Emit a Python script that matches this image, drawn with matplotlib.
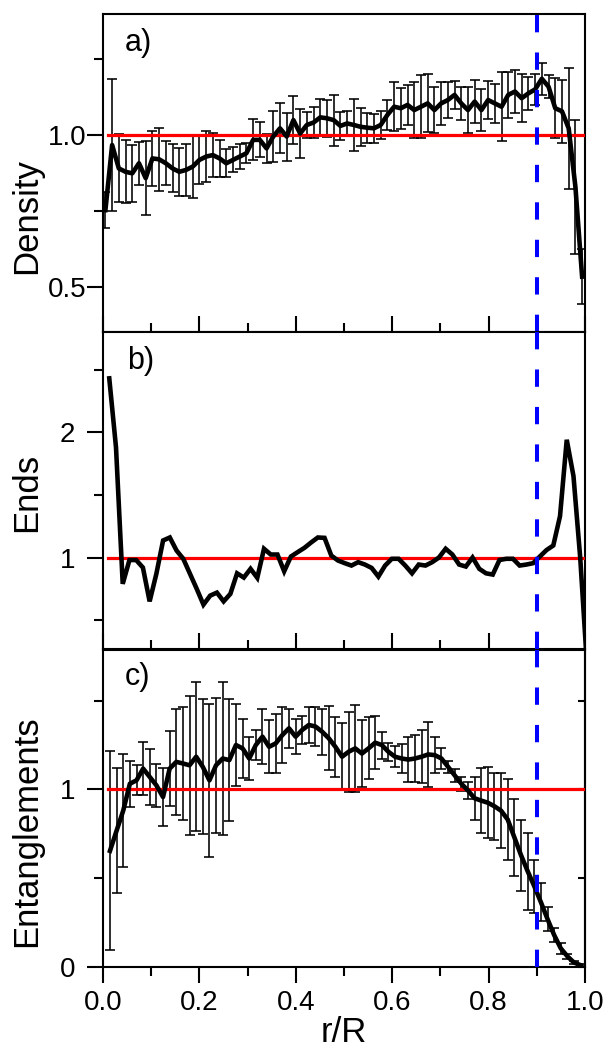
import numpy as np
import matplotlib
matplotlib.use('Agg')
import matplotlib.pyplot as plt
from matplotlib.ticker import MultipleLocator

plt.rcParams['font.family'] = ['Liberation Sans', 'DejaVu Sans']

# ---------------- data ----------------
r_density = np.linspace(0.005, 0.994, 72)
density = [0.753, 0.967, 0.890, 0.879, 0.874, 0.907, 0.858, 0.923, 0.920, 0.907,
           0.890, 0.879, 0.885, 0.896, 0.918, 0.929, 0.934, 0.923, 0.907, 0.918,
           0.929, 0.940, 0.984, 0.984, 0.956, 0.995, 1.022, 0.995, 1.049, 1.005,
           1.033, 1.041, 1.058, 1.055, 1.049, 1.030, 1.038, 1.033, 1.027, 1.024,
           1.022, 1.033, 1.066, 1.093, 1.088, 1.099, 1.082, 1.093, 1.104, 1.082,
           1.104, 1.115, 1.132, 1.104, 1.082, 1.110, 1.082, 1.115, 1.104, 1.093,
           1.132, 1.143, 1.121, 1.137, 1.150, 1.185, 1.159, 1.088, 1.078, 1.022,
           0.830, 0.534]
density_err = [0.058, 0.217, 0.112, 0.103, 0.093, 0.070, 0.122, 0.090, 0.104, 0.073,
               0.079, 0.079, 0.085, 0.104, 0.080, 0.083, 0.071, 0.060, 0.046, 0.041,
               0.040, 0.033, 0.067, 0.058, 0.047, 0.084, 0.082, 0.079, 0.078, 0.080,
               0.044, 0.050, 0.061, 0.060, 0.084, 0.047, 0.040, 0.084, 0.063, 0.049,
               0.047, 0.047, 0.048, 0.081, 0.067, 0.065, 0.092, 0.103, 0.095, 0.077,
               0.071, 0.058, 0.047, 0.055, 0.077, 0.070, 0.069, 0.063, 0.063, 0.113,
               0.076, 0.072, 0.078, 0.055, 0.052, 0.052, 0.038, 0.099, 0.103, 0.200,
               0.220, 0.090]

r_ends = np.linspace(0.013, 1.004, 72)
ends = [2.43, 1.88, 0.79, 0.98, 0.98, 0.92, 0.65, 0.87, 1.136, 1.16,
        1.056, 0.99, 0.87, 0.75, 0.624, 0.696, 0.72, 0.65, 0.71, 0.874,
        0.84, 0.91, 0.838, 1.07, 1.024, 1.024, 0.89, 1.008, 1.043, 1.077,
        1.12, 1.16, 1.157, 1.016, 0.976, 0.955, 0.936, 0.963, 0.944, 0.917,
        0.848, 0.936, 0.99, 0.99, 0.936, 0.874, 0.944, 0.936, 0.963, 1.0,
        1.07, 1.024, 0.944, 0.928, 1.0, 0.91, 0.874, 0.864, 0.98, 0.99,
        0.99, 0.936, 0.944, 0.955, 1.008, 1.06, 1.096, 1.33, 1.94, 1.65,
        1.00, 0.15]

r_ent = np.linspace(0.0145, 0.991, 72)
entanglements = [0.654, 0.768, 0.881, 1.032, 1.051, 1.117, 1.07, 1.023, 0.957, 1.117,
                 1.155, 1.146, 1.136, 1.184, 1.127, 1.051, 1.136, 1.174, 1.165, 1.25,
                 1.231, 1.174, 1.25, 1.297, 1.240, 1.259, 1.306, 1.344, 1.297, 1.335,
                 1.363, 1.354, 1.325, 1.288, 1.240, 1.184, 1.212, 1.231, 1.202, 1.231,
                 1.263, 1.25, 1.212, 1.184, 1.174, 1.168, 1.174, 1.184, 1.197, 1.193,
                 1.174, 1.127, 1.079, 1.032, 0.994, 0.95, 0.937, 0.925, 0.905, 0.88,
                 0.83, 0.73, 0.63, 0.54, 0.455, 0.365, 0.27, 0.18, 0.105, 0.06,
                 0.025, 0.01]
entanglements_err = [0.56, 0.35, 0.32, 0.13, 0.085, 0.15, 0.16, 0.12, 0.165, 0.21,
                     0.30, 0.32, 0.39, 0.42, 0.38, 0.43, 0.38, 0.43, 0.345, 0.23,
                     0.165, 0.12, 0.085, 0.155, 0.15, 0.165, 0.16, 0.11, 0.10, 0.08,
                     0.10, 0.11, 0.13, 0.18, 0.17, 0.19, 0.225, 0.245, 0.19, 0.175,
                     0.15, 0.076, 0.052, 0.06, 0.082, 0.128, 0.13, 0.15, 0.184, 0.10,
                     0.06, 0.033, 0.035, 0.04, 0.05, 0.12, 0.184, 0.20, 0.19, 0.21,
                     0.227, 0.217, 0.20, 0.217, 0.15, 0.106, 0.066, 0.04, 0.03, 0.015,
                     0.01, 0.005]

panel_labels = ['a)', 'b)', 'c)']
y_labels = ['Density', 'Ends', 'Entanglements']
x_label = 'r/R'
ref_level = 1.0
r_cut = 0.9

# ---------------- figure ----------------
W, H = 608, 1050
fig = plt.figure(figsize=(W / 100, H / 100), dpi=100)
left = 103 / W
width = 482 / W
axA = fig.add_axes([left, 1 - 332 / H, width, 318 / H])
axB = fig.add_axes([left, 1 - 649 / H, width, 317 / H])
axC = fig.add_axes([left, 1 - 967 / H, width, 317 / H])
axes = [axA, axB, axC]

LW = 3.3
err_kw = dict(fmt='none', ecolor='black', elinewidth=1.15, capsize=3.5,
              capthick=1.15, zorder=2)

axA.errorbar(r_density, density, yerr=density_err, **err_kw)
axA.plot(r_density, density, color='black', lw=LW, zorder=4,
         solid_joinstyle='round')
axB.plot(r_ends, ends, color='black', lw=LW, zorder=4, solid_joinstyle='miter')
axC.errorbar(r_ent, entanglements, yerr=entanglements_err, **err_kw)
axC.plot(r_ent, entanglements, color='black', lw=LW, zorder=4,
         solid_joinstyle='round')

for ax in axes:
    ax.axhline(ref_level, xmin=0.01, xmax=1.0, color='#ff0000', lw=2.3, zorder=3)
    ax.axvline(r_cut, color='#0000ff', lw=2.9, dashes=(4.3, 5.0), zorder=6)
    ax.set_xlim(0, 1.0)
    ax.xaxis.set_major_locator(MultipleLocator(0.2))
    ax.xaxis.set_minor_locator(MultipleLocator(0.1))
    for s in ax.spines.values():
        s.set_linewidth(1.5)
    ax.tick_params(axis='y', which='major', direction='out', length=11.5,
                   width=1.5, labelsize=20, pad=14, right=False)
    ax.tick_params(axis='y', which='minor', direction='out', length=6.5,
                   width=1.5, right=False)
    ax.tick_params(axis='x', which='major', length=11.5, width=1.5,
                   labelsize=20, top=False)
    ax.tick_params(axis='x', which='minor', length=6.5, width=1.5, top=False)

axA.set_ylim(0.352, 1.398)
axA.yaxis.set_major_locator(MultipleLocator(0.5))
axA.yaxis.set_minor_locator(MultipleLocator(0.25))
axB.set_ylim(0.27, 2.8)
axB.yaxis.set_major_locator(MultipleLocator(1))
axB.yaxis.set_minor_locator(MultipleLocator(0.5))
axC.set_ylim(0.0, 1.785)
axC.yaxis.set_major_locator(MultipleLocator(1))
axC.yaxis.set_minor_locator(MultipleLocator(0.5))

for ax in (axA, axB):
    ax.tick_params(axis='x', which='both', direction='in', labelbottom=False)
axC.tick_params(axis='x', which='both', direction='out', pad=5)

# inward ticks on right side of panel c
sec = axC.secondary_yaxis('right')
sec.yaxis.set_major_locator(MultipleLocator(0.5))
sec.tick_params(axis='y', which='both', direction='in', length=5, width=1.5,
                labelright=False)
sec.spines['right'].set_linewidth(1.5)

for ax in axes:
    for lab in ax.get_yticklabels():
        lab.set_horizontalalignment('center')

label_pos = [(0.046, 0.955), (0.049, 0.955), (0.046, 0.962)]
for ax, lab, (px, py) in zip(axes, panel_labels, label_pos):
    ax.text(px, py, lab, transform=ax.transAxes, fontsize=22, va='top', ha='left')

ylab_y = [0.365, 0.495, 0.43]
for ax, lab, yy in zip(axes, y_labels, ylab_y):
    ax.set_ylabel(lab, fontsize=25)
    ax.yaxis.set_label_coords(-0.125, yy)

axC.set_xlabel(x_label, fontsize=25, labelpad=0)

fig.savefig('out.png', dpi=100)
